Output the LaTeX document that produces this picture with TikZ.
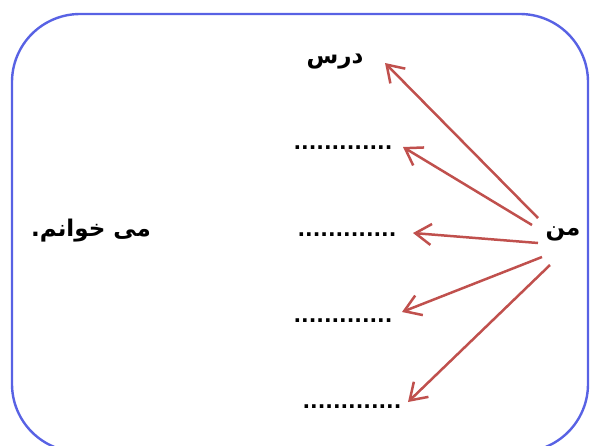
\documentclass[tikz,border=0pt]{standalone}
\usepackage{fontspec}
\usetikzlibrary{arrows.meta}
\TeXXeTstate=1
\newfontfamily\arabicfont[Script=Arabic]{DejaVu Sans Bold}
\setmainfont{DejaVu Sans}
\definecolor{framecol}{RGB}{88,98,228}
\definecolor{arrcol}{RGB}{192,80,77}
\tikzset{
  lbl/.style={inner sep=0pt, font=\arabicfont\fontsize{23}{26}\selectfont},
  dots/.style={inner sep=0pt, font=\bfseries\fontsize{20}{24}\selectfont},
  arr/.style={draw=arrcol, line width=2.5pt, -{Straight Barb[length=16pt,width=21pt,line width=2.5pt]}}
}
\begin{document}
\begin{tikzpicture}[x=1pt,y=-1pt]
\useasboundingbox (0,0) rectangle (592,445);
\draw[framecol, line width=2.4pt, rounded corners=68pt] (12,14) rectangle (588,452);
\node[lbl] (dars) at (335,62) {\beginR درس\endR};
\node[dots] (d2) at (343,148) {.............};
\node[dots] (d3) at (347,235) {.............};
\node[dots] (d4) at (343,321) {.............};
\node[dots] (d5) at (352,407) {.............};
\node[lbl] (man) at (563,234) {\beginR من\endR};
\node[lbl] (mikh) at (91,231) {\beginR می خوانم.\endR};
\coordinate (s1) at (538,218); \coordinate (t1) at (385,63);
\coordinate (s2) at (532,225); \coordinate (t2) at (403,147);
\coordinate (s3) at (538,243); \coordinate (t3) at (413,233);
\coordinate (s4) at (542,257); \coordinate (t4) at (402,312);
\coordinate (s5) at (550,265); \coordinate (t5) at (408,402);
\draw[arr] (s1) -- (t1);
\draw[arr] (s2) -- (t2);
\draw[arr] (s3) -- (t3);
\draw[arr] (s4) -- (t4);
\draw[arr] (s5) -- (t5);
\end{tikzpicture}
\end{document}
